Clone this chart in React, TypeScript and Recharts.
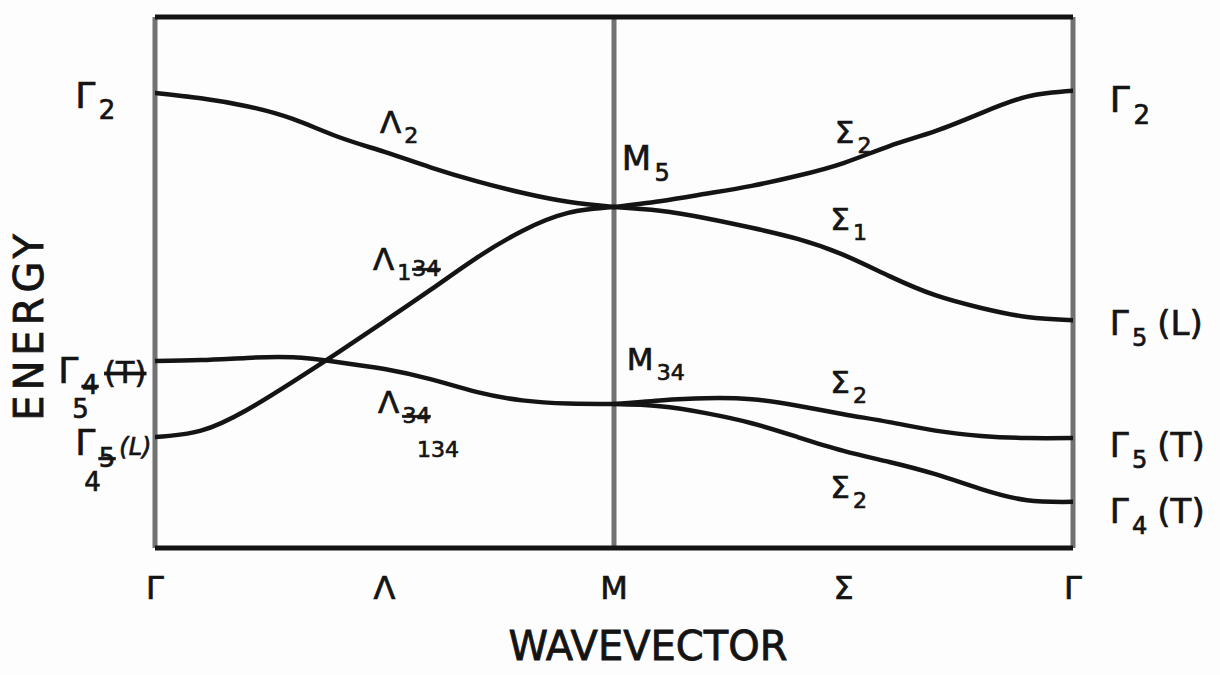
import React from "react";
import {
  LineChart,
  Line,
  XAxis,
  YAxis,
  ReferenceLine,
  ReferenceDot,
} from "recharts";

// Wavevector path: Γ = 0, M = 1, back to Γ = 2 (Λ on the left half, Σ on the right)
const K_LAMBDA = [0, 0.1, 0.2, 0.3, 0.4, 0.5, 0.6, 0.7, 0.8, 0.9, 1];
const K_SIGMA = [1, 1.1, 1.2, 1.3, 1.4, 1.5, 1.6, 1.7, 1.8, 1.9, 2];

// Band energies, arbitrary units (0 = bottom of frame, 10 = top)
const LAMBDA_2 = [8.57, 8.47, 8.32, 8.08, 7.74, 7.46, 7.17, 6.91, 6.69, 6.52, 6.42];
const LAMBDA_1 = [2.09, 2.21, 2.6, 3.13, 3.69, 4.27, 4.86, 5.46, 5.97, 6.31, 6.42];
const LAMBDA_34 = [3.52, 3.54, 3.58, 3.59, 3.5, 3.37, 3.18, 2.94, 2.78, 2.72, 2.71];
const SIGMA_2_TOP = [6.42, 6.53, 6.67, 6.82, 7.01, 7.25, 7.57, 7.85, 8.19, 8.5, 8.61];
const SIGMA_1 = [6.42, 6.35, 6.21, 6.03, 5.82, 5.52, 5.12, 4.76, 4.52, 4.35, 4.29];
const SIGMA_2_MID = [2.71, 2.78, 2.82, 2.8, 2.68, 2.52, 2.37, 2.21, 2.11, 2.07, 2.07];
const SIGMA_2_LOW = [2.71, 2.67, 2.54, 2.35, 2.09, 1.83, 1.62, 1.39, 1.11, 0.9, 0.87];

const K_TICKS = [0, 0.5, 1, 1.5, 2];
const K_NAMES = ["Γ", "Λ", "M", "Σ", "Γ"];

const FONT = "'DejaVu Sans', sans-serif";
const INK = "#141414";
const FRAME_GREY = "#727272";

type Pt = { k: number; e: number };
const toPoints = (ks: number[], es: number[]): Pt[] => ks.map((k, i) => ({ k, e: es[i] }));

const BANDS: { name: string; data: Pt[] }[] = [
  { name: "Λ2", data: toPoints(K_LAMBDA, LAMBDA_2) },
  { name: "Λ1", data: toPoints(K_LAMBDA, LAMBDA_1) },
  { name: "Λ34", data: toPoints(K_LAMBDA, LAMBDA_34) },
  { name: "Σ2 upper", data: toPoints(K_SIGMA, SIGMA_2_TOP) },
  { name: "Σ1", data: toPoints(K_SIGMA, SIGMA_1) },
  { name: "Σ2 middle", data: toPoints(K_SIGMA, SIGMA_2_MID) },
  { name: "Σ2 lower", data: toPoints(K_SIGMA, SIGMA_2_LOW) },
];

// Symmetry labels, anchored at the baseline-left of the main glyph
interface Tag {
  k: number;
  e: number;
  main: string;
  size: number;
  sub?: string;
  struck?: string; // crossed-out subscript
  below?: string; // correction written under the subscript
  belowDx?: number;
  belowDy?: number;
  tail?: string;
  tailDx?: number;
  tailSize?: number;
  tailStruck?: boolean;
  tailItalic?: boolean;
}

const TAGS: Tag[] = [
  // left edge (Γ)
  { k: -0.174, e: 8.29, main: "Γ", sub: "2", size: 36 },
  { k: -0.211, e: 3.11, main: "Γ", struck: "4", below: "5", belowDx: 14, belowDy: 35, tail: "(T)", tailDx: 6, tailSize: 30, tailStruck: true, size: 36 },
  { k: -0.174, e: 1.75, main: "Γ", struck: "5", below: "4", belowDx: 9, belowDy: 36, tail: "(L)", tailDx: 4, tailSize: 24, tailItalic: true, size: 36 },
  // right edge (Γ)
  { k: 2.08, e: 8.21, main: "Γ", sub: "2", size: 36 },
  { k: 2.08, e: 4.01, main: "Γ", sub: "5", tail: "(L)", tailDx: 10, size: 34 },
  { k: 2.08, e: 1.71, main: "Γ", sub: "5", tail: "(T)", tailDx: 10, size: 34 },
  { k: 2.08, e: 0.47, main: "Γ", sub: "4", tail: "(T)", tailDx: 10, size: 34 },
  // along Λ
  { k: 0.49, e: 7.82, main: "Λ", sub: "2", size: 31 },
  { k: 0.475, e: 5.24, main: "Λ", sub: "1", struck: "34", size: 31 },
  { k: 0.486, e: 2.54, main: "Λ", struck: "34", below: "134", belowDx: 39, belowDy: 44, size: 31 },
  // at M
  { k: 1.017, e: 7.12, main: "M", sub: "5", size: 34 },
  { k: 1.028, e: 3.35, main: "M", sub: "34", size: 31 },
  // along Σ
  { k: 1.481, e: 7.63, main: "Σ", sub: "2", size: 31 },
  { k: 1.471, e: 5.99, main: "Σ", sub: "1", size: 31 },
  { k: 1.471, e: 2.92, main: "Σ", sub: "2", size: 31 },
  { k: 1.471, e: 0.94, main: "Σ", sub: "2", size: 31 },
];

function TagMark({ cx, cy, tag }: { cx: number; cy: number; tag: Tag }) {
  const s = tag.size;
  const subSize = Math.round(s * 0.72);
  const drop = s * 0.32;
  const lowered = Boolean(tag.sub || tag.struck);
  return (
    <g fontFamily={FONT} fill={INK} stroke={INK} strokeWidth={0.7}>
      <text x={cx} y={cy} fontSize={s}>
        {tag.main}
        {tag.sub && (
          <tspan fontSize={subSize} dx={s * 0.1} dy={drop}>
            {tag.sub}
          </tspan>
        )}
        {tag.struck && (
          <tspan
            fontSize={subSize}
            dx={tag.sub ? 1 : s * 0.1}
            dy={tag.sub ? -s * 0.12 : drop}
            textDecoration="line-through"
          >
            {tag.struck}
          </tspan>
        )}
        {tag.tail && (
          <tspan
            fontSize={tag.tailSize ?? s}
            dx={tag.tailDx ?? 8}
            dy={lowered ? -(tag.sub && tag.struck ? drop - s * 0.12 : drop) : 0}
            textDecoration={tag.tailStruck ? "line-through" : undefined}
            fontStyle={tag.tailItalic ? "italic" : undefined}
          >
            {tag.tail}
          </tspan>
        )}
      </text>
      {tag.below && (
        <text x={cx + (tag.belowDx ?? 10)} y={cy + (tag.belowDy ?? s)} fontSize={subSize}>
          {tag.below}
        </text>
      )}
    </g>
  );
}

function KTick({ x, y, payload }: any) {
  const idx = K_TICKS.indexOf(payload.value);
  return (
    <text
      x={x}
      y={y}
      dy={51}
      textAnchor="middle"
      fontFamily={FONT}
      fontSize={32}
      fill={INK}
      stroke={INK}
      strokeWidth={0.7}
    >
      {K_NAMES[idx] ?? ""}
    </text>
  );
}

function EnergyTitle({ viewBox }: any) {
  const cx = viewBox.x + 29;
  const cy = viewBox.y + viewBox.height * 0.58;
  return (
    <text
      x={cx}
      y={cy}
      transform={`rotate(-90 ${cx} ${cy})`}
      textAnchor="middle"
      dominantBaseline="central"
      fontFamily={FONT}
      fontSize={40}
      letterSpacing={5}
      fill={INK}
      stroke={INK}
      strokeWidth={0.8}
    >
      ENERGY
    </text>
  );
}

function WavevectorTitle({ viewBox }: any) {
  return (
    <text
      x={viewBox.x + viewBox.width * 0.537}
      y={viewBox.y + 112}
      textAnchor="middle"
      fontFamily={FONT}
      fontSize={40}
      fill={INK}
      stroke={INK}
      strokeWidth={0.8}
    >
      WAVEVECTOR
    </text>
  );
}

export default function App() {
  return (
    <div style={{ position: "absolute", left: 0, top: 0, background: "#fdfdfd" }}>
      <LineChart width={1220} height={675} margin={{ top: 17, right: 147, bottom: 0, left: 0 }}>
        <XAxis
          dataKey="k"
          type="number"
          domain={[0, 2]}
          ticks={K_TICKS}
          allowDataOverflow
          height={127}
          axisLine={false}
          tickLine={false}
          tickSize={0}
          tickMargin={0}
          tick={<KTick />}
          label={<WavevectorTitle />}
        />
        <YAxis
          type="number"
          domain={[0, 10]}
          allowDataOverflow
          width={155}
          tick={false}
          axisLine={false}
          tickLine={false}
          label={<EnergyTitle />}
        />

        {/* frame: grey verticals at Γ, M, Γ and black top/bottom rules */}
        <ReferenceLine x={0} stroke={FRAME_GREY} strokeWidth={5} />
        <ReferenceLine x={1} stroke={FRAME_GREY} strokeWidth={5} />
        <ReferenceLine x={2} stroke={FRAME_GREY} strokeWidth={5} />
        <ReferenceLine y={10} stroke={INK} strokeWidth={5} />
        <ReferenceLine y={0} stroke={INK} strokeWidth={5} />

        {BANDS.map((b) => (
          <Line
            key={b.name}
            name={b.name}
            data={b.data}
            dataKey="e"
            type="natural"
            stroke={INK}
            strokeWidth={4.5}
            strokeLinecap="round"
            dot={false}
            activeDot={false}
            isAnimationActive={false}
          />
        ))}

        {TAGS.map((t, i) => (
          <ReferenceDot
            key={i}
            x={t.k}
            y={t.e}
            r={1}
            ifOverflow="visible"
            shape={(p: any) => <TagMark cx={p.cx} cy={p.cy} tag={t} />}
          />
        ))}
      </LineChart>
    </div>
  );
}
